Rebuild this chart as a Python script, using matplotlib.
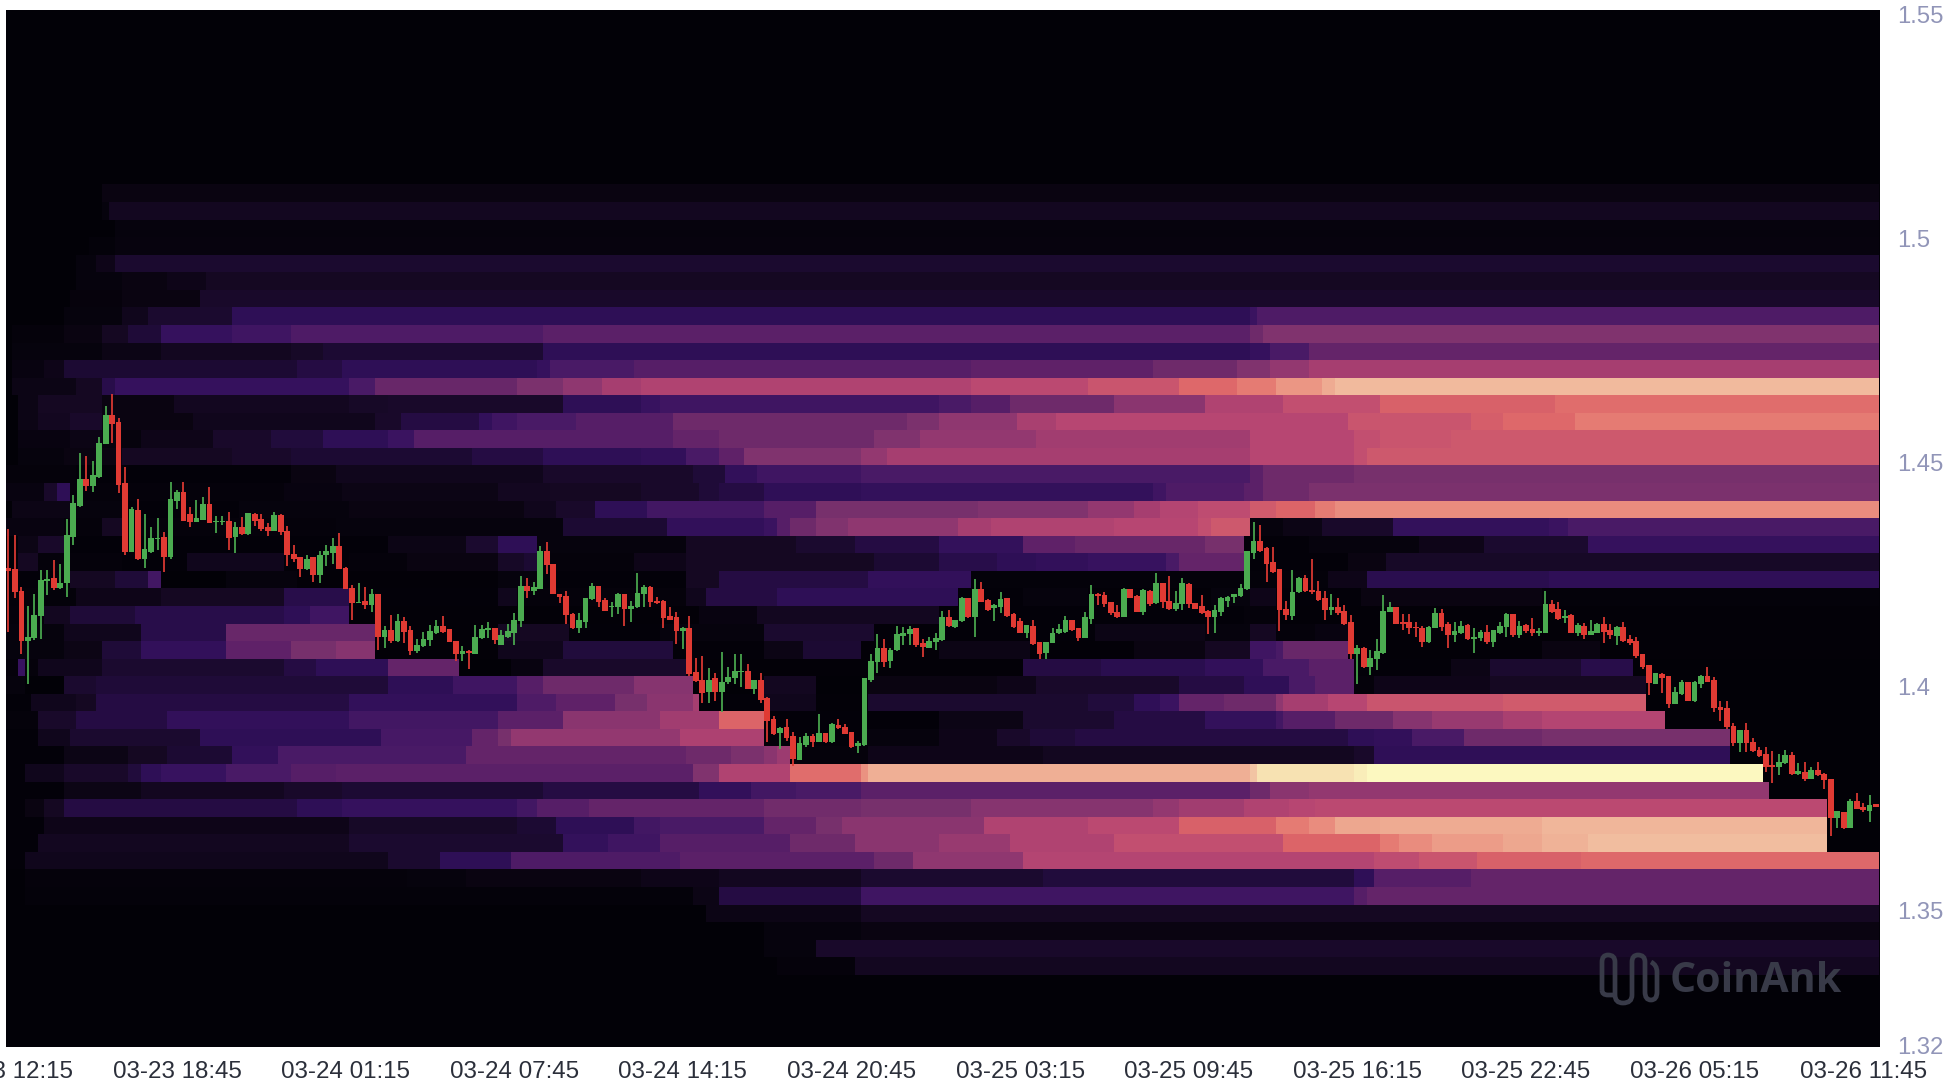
import numpy as np
import matplotlib
matplotlib.use("Agg")
import matplotlib.pyplot as plt
from matplotlib.colors import LinearSegmentedColormap
from matplotlib.path import Path
from matplotlib.patches import PathPatch

# 15 minute candles, one column of the heatmap per candle
opens = [
    1.4266, 1.4263, 1.4214, 1.4103, 1.4108, 1.4158, 1.4237, 1.4242, 1.4221, 1.4231,
    1.4335, 1.4404, 1.4463, 1.4448, 1.4469, 1.4542, 1.4606, 1.4591, 1.4454, 1.4301,
    1.4394, 1.4285, 1.4301, 1.4329, 1.4335, 1.4289, 1.4415, 1.4434, 1.4385, 1.4367,
    1.4373, 1.4407, 1.4368, 1.4368, 1.4371, 1.4335, 1.4356, 1.4341, 1.4385, 1.4374,
    1.4356, 1.4348, 1.4383, 1.4348, 1.4296, 1.4290, 1.4263, 1.4289, 1.4249, 1.4294,
    1.4299, 1.4314, 1.4266, 1.4221, 1.4186, 1.4192, 1.4182, 1.4208, 1.4112, 1.4126,
    1.4102, 1.4147, 1.4126, 1.4080, 1.4091, 1.4104, 1.4119, 1.4136, 1.4128, 1.4103,
    1.4073, 1.4080, 1.4074, 1.4108, 1.4126, 1.4132, 1.4093, 1.4110, 1.4121, 1.4147,
    1.4225, 1.4214, 1.4219, 1.4304, 1.4275, 1.4208, 1.4203, 1.4162, 1.4132, 1.4145,
    1.4195, 1.4225, 1.4193, 1.4177, 1.4179, 1.4207, 1.4174, 1.4177, 1.4208, 1.4223,
    1.4192, 1.4192, 1.4158, 1.4155, 1.4125, 1.4130, 1.4032, 1.4016, 1.3989, 1.4019,
    1.3989, 1.4010, 1.4019, 1.4033, 1.4036, 1.3996, 1.4015, 1.3975, 1.3929, 1.3896,
    1.3909, 1.3890, 1.3836, 1.3870, 1.3890, 1.3877, 1.3896, 1.3876, 1.3914, 1.3911,
    1.3898, 1.3868, 1.3870, 1.4015, 1.4056, 1.4087, 1.4058, 1.4082, 1.4114, 1.4118,
    1.4130, 1.4097, 1.4087, 1.4100, 1.4104, 1.4155, 1.4134, 1.4147, 1.4197, 1.4155,
    1.4218, 1.4193, 1.4175, 1.4179, 1.4197, 1.4162, 1.4147, 1.4121, 1.4136, 1.4099,
    1.4076, 1.4097, 1.4119, 1.4123, 1.4149, 1.4130, 1.4109, 1.4151, 1.4208, 1.4205,
    1.4190, 1.4167, 1.4156, 1.4217, 1.4203, 1.4167, 1.4214, 1.4186, 1.4232, 1.4192,
    1.4173, 1.4185, 1.4229, 1.4186, 1.4180, 1.4170, 1.4155, 1.4167, 1.4192, 1.4201,
    1.4203, 1.4218, 1.4299, 1.4325, 1.4309, 1.4279, 1.4263, 1.4173, 1.4158, 1.4211,
    1.4243, 1.4216, 1.4214, 1.4197, 1.4171, 1.4179, 1.4170, 1.4145, 1.4073, 1.4087,
    1.4043, 1.4062, 1.4076, 1.4167, 1.4177, 1.4145, 1.4144, 1.4134, 1.4132, 1.4099,
    1.4132, 1.4165, 1.4139, 1.4115, 1.4119, 1.4138, 1.4106, 1.4108, 1.4123, 1.4100,
    1.4121, 1.4134, 1.4162, 1.4115, 1.4138, 1.4129, 1.4121, 1.4121, 1.4185, 1.4173,
    1.4154, 1.4160, 1.4119, 1.4136, 1.4115, 1.4121, 1.4141, 1.4126, 1.4114, 1.4134,
    1.4106, 1.4102, 1.4073, 1.4048, 1.4007, 1.4028, 1.4023, 1.3961, 1.3983, 1.4010,
    1.3967, 1.4006, 1.4024, 1.4016, 1.3954, 1.3952, 1.3912, 1.3875, 1.3903, 1.3876,
    1.3859, 1.3850, 1.3825, 1.3820, 1.3829, 1.3848, 1.3805, 1.3810, 1.3795, 1.3814,
    1.3805, 1.3794, 1.3708, 1.3720, 1.3685, 1.3745, 1.3732, 1.3722, 1.3738,
]
closes = [
    1.4259, 1.4211, 1.4103, 1.4112, 1.4160, 1.4238, 1.4240, 1.4221, 1.4232, 1.4339,
    1.4411, 1.4464, 1.4449, 1.4472, 1.4545, 1.4606, 1.4586, 1.4450, 1.4301, 1.4397,
    1.4285, 1.4307, 1.4333, 1.4333, 1.4290, 1.4418, 1.4434, 1.4371, 1.4368, 1.4377,
    1.4408, 1.4365, 1.4371, 1.4371, 1.4333, 1.4356, 1.4340, 1.4387, 1.4369, 1.4353,
    1.4348, 1.4383, 1.4346, 1.4295, 1.4286, 1.4262, 1.4286, 1.4249, 1.4295, 1.4303,
    1.4314, 1.4263, 1.4218, 1.4186, 1.4190, 1.4182, 1.4208, 1.4110, 1.4126, 1.4103,
    1.4147, 1.4123, 1.4080, 1.4093, 1.4106, 1.4125, 1.4136, 1.4123, 1.4100, 1.4073,
    1.4080, 1.4076, 1.4110, 1.4128, 1.4132, 1.4104, 1.4115, 1.4125, 1.4150, 1.4225,
    1.4214, 1.4223, 1.4304, 1.4272, 1.4207, 1.4201, 1.4160, 1.4130, 1.4150, 1.4197,
    1.4225, 1.4190, 1.4170, 1.4181, 1.4207, 1.4173, 1.4180, 1.4210, 1.4223, 1.4189,
    1.4187, 1.4154, 1.4150, 1.4125, 1.4132, 1.4028, 1.4013, 1.3987, 1.4016, 1.3989,
    1.4011, 1.4022, 1.4035, 1.4036, 1.3995, 1.4015, 1.3970, 1.3924, 1.3894, 1.3908,
    1.3886, 1.3838, 1.3874, 1.3891, 1.3877, 1.3896, 1.3876, 1.3916, 1.3907, 1.3894,
    1.3866, 1.3874, 1.4019, 1.4058, 1.4087, 1.4056, 1.4083, 1.4118, 1.4121, 1.4128,
    1.4092, 1.4088, 1.4103, 1.4108, 1.4155, 1.4136, 1.4149, 1.4199, 1.4155, 1.4217,
    1.4190, 1.4171, 1.4182, 1.4195, 1.4158, 1.4134, 1.4121, 1.4138, 1.4095, 1.4074,
    1.4099, 1.4121, 1.4128, 1.4150, 1.4126, 1.4109, 1.4155, 1.4208, 1.4203, 1.4185,
    1.4164, 1.4156, 1.4218, 1.4199, 1.4167, 1.4216, 1.4185, 1.4231, 1.4188, 1.4173,
    1.4186, 1.4231, 1.4185, 1.4173, 1.4164, 1.4156, 1.4171, 1.4199, 1.4201, 1.4207,
    1.4221, 1.4303, 1.4326, 1.4304, 1.4275, 1.4257, 1.4171, 1.4160, 1.4212, 1.4243,
    1.4214, 1.4212, 1.4193, 1.4171, 1.4179, 1.4165, 1.4140, 1.4073, 1.4087, 1.4043,
    1.4065, 1.4080, 1.4170, 1.4179, 1.4141, 1.4141, 1.4130, 1.4130, 1.4099, 1.4134,
    1.4164, 1.4134, 1.4115, 1.4125, 1.4135, 1.4106, 1.4112, 1.4123, 1.4100, 1.4126,
    1.4136, 1.4162, 1.4115, 1.4136, 1.4125, 1.4119, 1.4125, 1.4185, 1.4167, 1.4151,
    1.4158, 1.4121, 1.4138, 1.4115, 1.4124, 1.4141, 1.4123, 1.4115, 1.4134, 1.4103,
    1.4097, 1.4069, 1.4043, 1.4009, 1.4030, 1.4019, 1.3961, 1.3988, 1.4010, 1.3968,
    1.4011, 1.4025, 1.4011, 1.3952, 1.3948, 1.3909, 1.3875, 1.3903, 1.3874, 1.3857,
    1.3845, 1.3820, 1.3820, 1.3831, 1.3848, 1.3805, 1.3811, 1.3795, 1.3814, 1.3803,
    1.3792, 1.3708, 1.3722, 1.3685, 1.3745, 1.3728, 1.3725, 1.3737, 1.3732,
]
highs = [
    1.4352, 1.4339, 1.4223, 1.4181, 1.4208, 1.4260, 1.4260, 1.4283, 1.4275, 1.4374,
    1.4429, 1.4521, 1.4515, 1.4504, 1.4557, 1.4627, 1.4653, 1.4599, 1.4490, 1.4402,
    1.4419, 1.4385, 1.4356, 1.4376, 1.4346, 1.4456, 1.4440, 1.4456, 1.4402, 1.4417,
    1.4423, 1.4445, 1.4382, 1.4382, 1.4391, 1.4367, 1.4378, 1.4388, 1.4388, 1.4385,
    1.4365, 1.4391, 1.4385, 1.4359, 1.4316, 1.4290, 1.4294, 1.4290, 1.4303, 1.4316,
    1.4333, 1.4342, 1.4268, 1.4227, 1.4231, 1.4223, 1.4219, 1.4208, 1.4136, 1.4160,
    1.4162, 1.4156, 1.4135, 1.4106, 1.4123, 1.4138, 1.4150, 1.4158, 1.4128, 1.4103,
    1.4091, 1.4082, 1.4138, 1.4138, 1.4145, 1.4132, 1.4126, 1.4141, 1.4164, 1.4247,
    1.4242, 1.4234, 1.4315, 1.4324, 1.4275, 1.4208, 1.4214, 1.4165, 1.4164, 1.4199,
    1.4231, 1.4225, 1.4199, 1.4190, 1.4210, 1.4207, 1.4192, 1.4253, 1.4227, 1.4225,
    1.4201, 1.4193, 1.4177, 1.4167, 1.4134, 1.4158, 1.4063, 1.4068, 1.4041, 1.4031,
    1.4078, 1.4043, 1.4074, 1.4073, 1.4051, 1.4015, 1.4030, 1.3978, 1.3935, 1.3909,
    1.3928, 1.3900, 1.3888, 1.3897, 1.3894, 1.3940, 1.3896, 1.3918, 1.3929, 1.3917,
    1.3900, 1.3879, 1.4019, 1.4074, 1.4118, 1.4106, 1.4086, 1.4135, 1.4134, 1.4135,
    1.4130, 1.4106, 1.4112, 1.4121, 1.4170, 1.4171, 1.4150, 1.4201, 1.4199, 1.4240,
    1.4233, 1.4196, 1.4185, 1.4212, 1.4197, 1.4164, 1.4153, 1.4138, 1.4149, 1.4099,
    1.4100, 1.4132, 1.4140, 1.4158, 1.4150, 1.4130, 1.4167, 1.4227, 1.4210, 1.4212,
    1.4190, 1.4182, 1.4221, 1.4217, 1.4205, 1.4218, 1.4216, 1.4254, 1.4232, 1.4247,
    1.4214, 1.4242, 1.4231, 1.4187, 1.4205, 1.4171, 1.4182, 1.4201, 1.4202, 1.4208,
    1.4229, 1.4303, 1.4368, 1.4362, 1.4312, 1.4311, 1.4263, 1.4192, 1.4260, 1.4246,
    1.4249, 1.4285, 1.4237, 1.4214, 1.4208, 1.4199, 1.4182, 1.4160, 1.4093, 1.4089,
    1.4082, 1.4106, 1.4205, 1.4190, 1.4179, 1.4162, 1.4162, 1.4145, 1.4135, 1.4135,
    1.4175, 1.4173, 1.4144, 1.4145, 1.4147, 1.4139, 1.4130, 1.4126, 1.4138, 1.4126,
    1.4144, 1.4165, 1.4162, 1.4147, 1.4140, 1.4153, 1.4130, 1.4214, 1.4193, 1.4188,
    1.4171, 1.4162, 1.4143, 1.4143, 1.4149, 1.4143, 1.4156, 1.4139, 1.4135, 1.4144,
    1.4115, 1.4110, 1.4074, 1.4049, 1.4031, 1.4030, 1.4024, 1.3999, 1.4015, 1.4011,
    1.4013, 1.4027, 1.4045, 1.4021, 1.3968, 1.3967, 1.3920, 1.3903, 1.3920, 1.3885,
    1.3866, 1.3866, 1.3857, 1.3850, 1.3859, 1.3855, 1.3829, 1.3831, 1.3820, 1.3831,
    1.3807, 1.3795, 1.3722, 1.3721, 1.3749, 1.3762, 1.3740, 1.3758, 1.3738,
]
lows = [
    1.4123, 1.4197, 1.4074, 1.4006, 1.4104, 1.4107, 1.4205, 1.4216, 1.4219, 1.4201,
    1.4316, 1.4402, 1.4437, 1.4435, 1.4465, 1.4542, 1.4543, 1.4432, 1.4295, 1.4300,
    1.4283, 1.4264, 1.4298, 1.4305, 1.4257, 1.4285, 1.4397, 1.4370, 1.4357, 1.4367,
    1.4372, 1.4365, 1.4342, 1.4361, 1.4305, 1.4299, 1.4339, 1.4339, 1.4359, 1.4348,
    1.4337, 1.4347, 1.4339, 1.4270, 1.4279, 1.4246, 1.4260, 1.4234, 1.4231, 1.4269,
    1.4275, 1.4263, 1.4218, 1.4149, 1.4186, 1.4173, 1.4166, 1.4083, 1.4087, 1.4098,
    1.4100, 1.4097, 1.4071, 1.4076, 1.4089, 1.4091, 1.4118, 1.4119, 1.4099, 1.4058,
    1.4058, 1.4039, 1.4073, 1.4106, 1.4108, 1.4095, 1.4093, 1.4108, 1.4094, 1.4134,
    1.4199, 1.4205, 1.4217, 1.4251, 1.4207, 1.4186, 1.4139, 1.4129, 1.4121, 1.4132,
    1.4193, 1.4179, 1.4170, 1.4155, 1.4162, 1.4135, 1.4145, 1.4176, 1.4177, 1.4179,
    1.4185, 1.4132, 1.4149, 1.4095, 1.4084, 1.4024, 1.4011, 1.3963, 1.3963, 1.3967,
    1.3944, 1.4007, 1.4007, 1.4000, 1.3994, 1.3983, 1.3963, 1.3877, 1.3892, 1.3860,
    1.3879, 1.3824, 1.3836, 1.3866, 1.3866, 1.3877, 1.3874, 1.3874, 1.3906, 1.3894,
    1.3864, 1.3851, 1.3868, 1.4011, 1.4031, 1.4045, 1.4041, 1.4080, 1.4092, 1.4092,
    1.4089, 1.4067, 1.4086, 1.4082, 1.4103, 1.4134, 1.4132, 1.4145, 1.4153, 1.4110,
    1.4188, 1.4170, 1.4147, 1.4164, 1.4156, 1.4132, 1.4119, 1.4108, 1.4093, 1.4062,
    1.4061, 1.4097, 1.4118, 1.4121, 1.4125, 1.4102, 1.4108, 1.4141, 1.4182, 1.4177,
    1.4161, 1.4153, 1.4156, 1.4197, 1.4166, 1.4160, 1.4180, 1.4185, 1.4175, 1.4171,
    1.4170, 1.4171, 1.4175, 1.4173, 1.4162, 1.4118, 1.4121, 1.4158, 1.4179, 1.4187,
    1.4201, 1.4216, 1.4284, 1.4301, 1.4234, 1.4254, 1.4125, 1.4149, 1.4149, 1.4210,
    1.4212, 1.4208, 1.4192, 1.4149, 1.4160, 1.4160, 1.4138, 1.4061, 1.4007, 1.4041,
    1.4026, 1.4037, 1.4074, 1.4167, 1.4140, 1.4126, 1.4118, 1.4112, 1.4089, 1.4097,
    1.4130, 1.4125, 1.4086, 1.4100, 1.4118, 1.4104, 1.4076, 1.4103, 1.4095, 1.4088,
    1.4118, 1.4112, 1.4112, 1.4109, 1.4119, 1.4114, 1.4114, 1.4119, 1.4165, 1.4150,
    1.4143, 1.4119, 1.4114, 1.4106, 1.4115, 1.4119, 1.4098, 1.4106, 1.4092, 1.4099,
    1.4093, 1.4065, 1.4040, 1.3981, 1.4006, 1.3985, 1.3952, 1.3961, 1.3981, 1.3967,
    1.3965, 1.3998, 1.4010, 1.3943, 1.3923, 1.3905, 1.3868, 1.3855, 1.3855, 1.3855,
    1.3844, 1.3810, 1.3784, 1.3804, 1.3827, 1.3804, 1.3804, 1.3790, 1.3794, 1.3801,
    1.3772, 1.3667, 1.3684, 1.3683, 1.3684, 1.3726, 1.3720, 1.3697, 1.3731,
]

# liquidation bands, top one first: (first column, heat), each lasts up to the next entry
band_top = 1.5121
band_step = 0.00392
band_00 = [(15, .05)]
band_01 = [(15, .03), (16, .09)]
band_02 = [(17, .03)]
band_03 = [(13, .015), (17, .035)]
band_04 = [(11, .03), (14, .07), (17, .13)]
band_05 = [(11, .03), (18, .05), (25, .07), (31, .10)]
band_06 = [(10, .025), (18, .05), (30, .12)]
band_07 = [(9, .03), (18, .08), (22, .13), (35, .2), (192, .26), (193, .31)]
band_08 = [(1, .02), (9, .05), (15, .1), (19, .15), (24, .24), (35, .27), (44, .31), (83, .34),
           (192, .38), (194, .42)]
band_09 = [(1, .03), (15, .06), (24, .09), (44, .11), (49, .14), (83, .2), (192, .24), (195, .3),
           (201, .36)]
band_10 = [(1, .04), (6, .07), (9, .14), (45, .17), (52, .2), (82, .24), (84, .3), (97, .33),
           (149, .35), (177, .38), (190, .42), (195, .46), (201, .5)]
band_11 = [(1, .06), (11, .1), (15, .18), (17, .24), (53, .3), (57, .37), (79, .41), (86, .45),
           (92, .5), (98, .53), (149, .56), (167, .6), (181, .66), (190, .7), (196, .76),
           (203, .8), (205, .84)]
band_12 = [(2, .06), (5, .1), (15, .05), (26, .09), (53, .11), (59, .12), (86, .2), (98, .25),
           (101, .27), (144, .3), (149, .33), (155, .38), (171, .44), (185, .53), (197, .58),
           (212, .64), (239, .67)]
band_13 = [(2, .06), (5, .09), (10, .12), (15, .05), (29, .08), (57, .12), (61, .17), (73, .22),
           (75, .27), (79, .3), (88, .33), (103, .38), (139, .41), (144, .45), (156, .51),
           (162, .55), (207, .6), (226, .63), (231, .66), (242, .7)]
band_14 = [(2, .04), (10, .06), (15, .03), (21, .07), (32, .12), (41, .16), (49, .2), (59, .26),
           (63, .33), (103, .36), (110, .38), (134, .42), (141, .46), (159, .49), (192, .55),
           (208, .58), (212, .6), (223, .61)]
band_15 = [(2, .03), (9, .05), (18, .1), (35, .12), (44, .14), (72, .17), (83, .2), (98, .22),
           (105, .3), (110, .35), (114, .42), (132, .46), (136, .5), (192, .55), (208, .58),
           (210, .61)]
band_16 = [(0, .02), (11, .01), (44, .05), (51, .08), (83, .12), (106, .15), (111, .22), (116, .27),
           (132, .3), (192, .34), (194, .38), (208, .4)]
band_17 = [(0, .04), (6, .12), (8, .2), (10, .02), (43, .04), (52, .06), (76, .09), (84, .1),
           (98, .12), (107, .15), (110, .17), (117, .21), (132, .23), (177, .27), (179, .31),
           (191, .34), (194, .38), (201, .41)]
band_18 = [(1, .06), (10, .03), (18, .01), (36, .03), (53, .05), (80, .08), (85, .12), (91, .2),
           (99, .28), (117, .33), (125, .4), (150, .42), (167, .46), (174, .5), (178, .54),
           (184, .57), (192, .62), (196, .65), (202, .7), (205, .74)]
band_19 = [(0, .04), (9, .02), (15, .1), (18, .02), (51, .03), (86, .14), (102, .22), (117, .26),
           (119, .33), (121, .38), (125, .42), (130, .45), (147, .5), (152, .53), (171, .55),
           (184, .58), (186, .61), (192, .03), (197, .06), (203, .12), (214, .23), (238, .26),
           (241, .3)]
band_20 = [(2, .06), (5, .12), (9, .01), (59, .06), (71, .13), (76, .2), (82, .03), (105, .1),
           (122, .13), (131, .17), (144, .23), (157, .35), (165, .37), (185, .4), (191, .01),
           (201, .03), (218, .07), (228, .13), (244, .24)]
band_21 = [(2, .1), (5, .02), (18, .01), (28, .08), (43, .01), (53, .02), (62, .05), (76, .11),
           (80, .14), (82, .02), (97, .07), (105, .1), (134, .14), (144, .18), (153, .2),
           (159, .22), (167, .25), (179, .3), (181, .36), (191, .01), (207, .05), (213, .11)]
band_22 = [(0, .01), (10, .1), (17, .15), (22, .28), (24, .0), (34, .03), (45, .005), (76, .03),
           (83, .01), (105, .1), (110, .17), (133, .22), (149, .015), (204, .07), (210, .19),
           (238, .21)]
band_23 = [(0, .015), (11, .07), (24, .1), (43, .18), (53, .01), (76, .08), (79, .02), (105, .08),
           (108, .17), (119, .2), (147, .01), (157, .03), (167, .005), (186, .03), (192, .07),
           (196, .01), (209, .05), (237, .015)]
band_24 = [(0, .02), (6, .09), (10, .15), (20, .18), (43, .2), (47, .27), (53, .005), (107, .04),
           (116, .09), (144, .01), (191, .02), (196, .005)]
band_25 = [(0, .03), (9, .08), (21, .18), (34, .37), (57, .005), (76, .1), (87, .01), (101, .03),
           (117, .13), (134, .01), (168, .06), (185, .03), (192, .1), (196, .02), (202, .04),
           (207, .005)]
band_26 = [(0, .03), (9, .06), (15, .15), (21, .22), (34, .35), (44, .4), (51, .43), (57, .005),
           (76, .08), (86, .16), (103, .01), (117, .06), (123, .14), (132, .005), (144, .06),
           (158, .005), (174, .05), (185, .1), (192, .27), (196, .3), (197, .37), (207, .005),
           (237, .05), (246, .005)]
band_27 = [(0, .02), (2, .25), (3, .02), (5, .08), (15, .13), (43, .17), (48, .2), (59, .36),
           (70, .0), (78, .04), (83, .12), (105, .005), (157, .17), (169, .19), (185, .22),
           (194, .3), (201, .34), (208, .01), (223, .06), (229, .13), (243, .18), (251, .0)]
band_28 = [(0, .03), (3, .0), (9, .13), (14, .15), (59, .2), (69, .27), (79, .33), (83, .38),
           (97, .43), (106, .0), (117, .09), (125, .0), (133, .05), (153, .07), (159, .12),
           (181, .17), (191, .21), (198, .3), (202, .34), (208, .02), (211, .07), (229, .1),
           (253, .0)]
band_29 = [(0, .01), (4, .08), (11, .1), (14, .17), (53, .22), (79, .31), (85, .35), (94, .4),
           (99, .44), (106, .5), (107, .01), (117, .08), (125, .005), (133, .13), (167, .16),
           (174, .21), (178, .26), (181, .36), (188, .38), (196, .45), (197, .5), (204, .55),
           (210, .6), (231, .62), (253, .0)]
band_30 = [(0, .02), (5, .12), (11, .17), (25, .22), (53, .28), (76, .34), (86, .44), (101, .49),
           (110, .65), (117, .01), (144, .06), (157, .13), (171, .17), (185, .23), (196, .28),
           (197, .33), (205, .38), (214, .43), (220, .47), (231, .51), (237, .54), (256, .0)]
band_31 = [(0, .01), (5, .08), (10, .13), (30, .2), (58, .29), (72, .36), (76, .4), (78, .46),
           (104, .52), (117, .01), (132, .03), (144, .07), (153, .12), (158, .15), (165, .17),
           (207, .2), (211, .22), (217, .3), (225, .38), (237, .4), (266, .0)]
band_32 = [(0, .01), (9, .06), (19, .1), (25, .14), (35, .22), (42, .3), (71, .36), (105, .38),
           (112, .41), (117, .44), (119, .48), (121, .02), (133, .07), (160, .09), (208, .12),
           (211, .21), (266, .0)]
band_33 = [(0, .01), (3, .08), (9, .12), (19, .16), (21, .2), (24, .25), (34, .3), (44, .33),
           (51, .34), (106, .42), (110, .53), (121, .67), (132, .75), (133, .81), (192, .86),
           (193, .92), (208, .96), (210, 1.0), (271, .0)]
band_34 = [(0, .01), (9, .06), (21, .09), (43, .12), (52, .14), (83, .17), (107, .22), (115, .28),
           (122, .3), (132, .34), (192, .38), (195, .44), (201, .46), (272, .0)]
band_35 = [(0, .01), (3, .05), (6, .1), (9, .17), (45, .2), (52, .24), (79, .28), (82, .33),
           (90, .36), (117, .39), (132, .4), (149, .43), (177, .46), (181, .49), (191, .53),
           (198, .55), (202, .56), (281, .0)]
band_36 = [(0, .01), (6, .07), (53, .11), (79, .14), (85, .2), (97, .28), (101, .3), (117, .36),
           (125, .4), (129, .44), (151, .53), (167, .56), (181, .64), (196, .7), (201, .74),
           (205, .79), (212, .8), (237, .83), (281, .0)]
band_37 = [(0, .01), (5, .09), (53, .13), (86, .23), (93, .27), (101, .33), (121, .38), (131, .44),
           (144, .47), (155, .53), (171, .58), (197, .65), (212, .7), (215, .74), (220, .77),
           (231, .79), (237, .82), (244, .85), (281, .0)]
band_38 = [(0, .01), (3, .08), (59, .13), (67, .2), (78, .31), (104, .34), (134, .38), (140, .45),
           (157, .54), (211, .57), (218, .6), (227, .64), (243, .66)]
band_39 = [(3, .02), (62, .03), (71, .05), (98, .07), (110, .09), (132, .13), (160, .16), (208, .21),
           (211, .33), (226, .36)]
band_40 = [(3, .012), (106, .06), (110, .17), (132, .27), (208, .33), (210, .36)]
band_41 = [(108, .06), (132, .1)]
band_42 = [(117, .03), (132, .05)]
band_43 = [(117, .03), (125, .12)]
band_44 = [(119, .02), (131, .09)]

bands = [
    band_00, band_01, band_02, band_03, band_04, band_05, band_06, band_07, band_08,
    band_09, band_10, band_11, band_12, band_13, band_14, band_15, band_16, band_17,
    band_18, band_19, band_20, band_21, band_22, band_23, band_24, band_25, band_26,
    band_27, band_28, band_29, band_30, band_31, band_32, band_33, band_34, band_35,
    band_36, band_37, band_38, band_39, band_40, band_41, band_42, band_43, band_44,
]

heat_stops = [0, .05, .10, .15, .20, .25, .30, .35, .40, .45, .50, .55, .60, .65, .70, .75, .80,
              .85, .90, 1]
heat_colors = ["#020107", "#0a0412", "#150823", "#1f0b38", "#2e0f56", "#37125f", "#4a1a66",
               "#5f2168", "#77306c", "#8f3770", "#a53e70", "#b74672", "#c9556e", "#dc6468",
               "#e57a72", "#ea9080", "#eeab92", "#f1bc9f", "#f5dcae", "#fcf8c0"]

price_ticks = [1.32, 1.35, 1.4, 1.45, 1.5, 1.55]
time_ticks = [0, 26, 52, 78, 104, 130, 156, 182, 208, 234, 260, 286]
time_labels = ["03-23 12:15", "03-23 18:45", "03-24 01:15", "03-24 07:45", "03-24 14:15",
               "03-24 20:45", "03-25 03:15", "03-25 09:45", "03-25 16:15", "03-25 22:45",
               "03-26 05:15", "03-26 11:45"]


def build_heat(n_cols):
    """turn the band segments into a bands x columns table"""
    heat = np.zeros((len(bands), n_cols))
    for row, band in enumerate(bands):
        for k, (start, value) in enumerate(band):
            stop = band[k + 1][0] if k + 1 < len(band) else n_cols
            heat[row, start:stop] = value
    return heat


def px(x, y):
    """pixel of the 1954x1088 picture to figure fraction"""
    return x / 1954, 1 - y / 1088


def draw_logo(fig):
    """the wavy CoinAnk mark"""
    p = [(1602, 990), (1602, 962), (1602, 955), (1608, 955), (1615, 955), (1615, 962),
         (1615, 995), (1615, 1003), (1623, 1003), (1632, 1003), (1632, 995), (1632, 962),
         (1632, 955), (1638, 955), (1645, 955), (1645, 962), (1645, 992), (1645, 1000),
         (1651, 1000), (1657, 1000), (1657, 992), (1657, 972), (1657, 965), (1651, 962)]
    codes = [Path.MOVETO, Path.LINETO, Path.CURVE3, Path.CURVE3, Path.CURVE3, Path.CURVE3,
             Path.LINETO, Path.CURVE3, Path.CURVE3, Path.CURVE3, Path.CURVE3, Path.LINETO,
             Path.CURVE3, Path.CURVE3, Path.CURVE3, Path.CURVE3, Path.LINETO, Path.CURVE3,
             Path.CURVE3, Path.CURVE3, Path.CURVE3, Path.LINETO, Path.CURVE3, Path.CURVE3]
    fig.add_artist(PathPatch(Path([px(*q) for q in p], codes), fill=False, edgecolor="#383a48",
                             lw=3.4, transform=fig.transFigure, zorder=5))
    closing = [(1602, 990), (1602, 995), (1608, 995), (1615, 995)]
    fig.add_artist(PathPatch(Path([px(*q) for q in closing],
                                  [Path.MOVETO, Path.CURVE3, Path.CURVE3, Path.LINETO]),
                             fill=False, edgecolor="#383a48", lw=3.4,
                             transform=fig.transFigure, zorder=5))
    x, y = px(1670, 981)
    fig.text(x, y, "CoinAnk", color="#383a48", fontsize=29.6, fontweight="bold",
             family="Open Sans", ha="left", va="center", zorder=5)


def main():
    fig = plt.figure(figsize=(19.54, 10.88), dpi=100, facecolor="white")
    ax = fig.add_axes([6 / 1954, 1 - 1047 / 1088, 1874 / 1954, 1037 / 1088])

    n_cols = len(closes)
    cmap = LinearSegmentedColormap.from_list("liq", list(zip(heat_stops, heat_colors)))
    ax.set_facecolor(heat_colors[0])

    # heatmap
    x_edges = np.arange(n_cols + 1) - 0.5
    y_edges = band_top - band_step * np.arange(len(bands) + 1)
    ax.pcolormesh(x_edges, y_edges, build_heat(n_cols), cmap=cmap, vmin=0, vmax=1, shading="flat")

    # candles
    x = np.arange(n_cols)
    o = np.array(opens)
    c = np.array(closes)
    colors = np.where(c >= o, "#4bab50", "#e03a33")
    ax.vlines(x, lows, highs, colors=colors, lw=1.25, zorder=3)
    ax.bar(x, np.abs(c - o), bottom=np.minimum(o, c), width=0.88, color=colors, lw=0, zorder=4)

    ax.set_xlim(-0.37, 288.6)
    ax.set_ylim(1.31958, 1.55105)

    for side in ax.spines.values():
        side.set_visible(False)
    ax.set_xticks(time_ticks)
    ax.set_xticklabels(time_labels, color="#2b2f3a", fontsize=17.4, family="Liberation Sans")
    ax.yaxis.tick_right()
    ax.set_yticks(price_ticks)
    ax.set_yticklabels([f"{p:g}" for p in price_ticks], color="#9195b8", fontsize=17.2,
                       family="Liberation Sans")
    ax.tick_params(axis="x", length=0, pad=10)
    ax.tick_params(axis="y", length=0, pad=12)

    draw_logo(fig)
    fig.savefig("out.png", dpi=100)


if __name__ == "__main__":
    main()
